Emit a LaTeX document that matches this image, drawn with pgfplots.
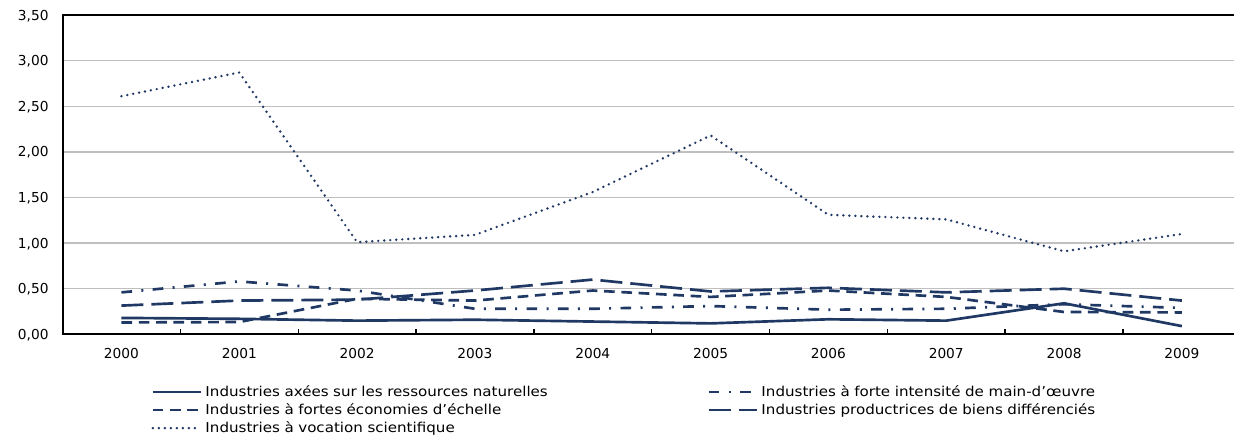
\documentclass[border=0pt]{standalone}
\usepackage{fontspec}
\setmainfont{DejaVu Sans}
\newfontfamily\legfont[FakeStretch=1.11]{DejaVu Sans}
\usepackage{pgfplots}
\pgfplotsset{compat=1.18}
\definecolor{navy}{HTML}{1F3864}
\begin{document}
\begin{tikzpicture}
\begin{axis}[
  at={(46.9pt,77pt)}, anchor=south west,
  scale only axis, width=883.7pt, height=239.5pt,
  xmin=-0.5, xmax=9.5, ymin=0, ymax=3.5,
  xtick={0,1,2,3,4,5,6,7,8,9},
  xticklabels={2000,2001,2002,2003,2004,2005,2006,2007,2008,2009},
  minor xtick={0.5,1.5,2.5,3.5,4.5,5.5,6.5,7.5,8.5},
  ytick={0,0.5,1,1.5,2,2.5,3,3.5},
  major tick length=0pt, minor tick length=3.75pt, tick align=inside,
  xtick pos=bottom, ytick pos=left,
  minor tick style={black, line width=1pt},
  ymajorgrids, grid style={color=gray!50, line width=1.1pt},
  axis line style={black, line width=1.5pt},
  yticklabel style={/pgf/number format/fixed, /pgf/number format/fixed zerofill,
    /pgf/number format/precision=2, /pgf/number format/use comma,
    /pgf/number format/assume math mode=true,
    inner sep=0pt, xshift=-10.3pt, text depth=0pt, font=\fontsize{10.3}{12}\selectfont},
  xticklabel style={inner sep=0pt, yshift=-10.5pt, font=\fontsize{10.3}{12}\selectfont},
  every axis plot/.append style={navy, line width=2pt},
  legend columns=2,
  legend cell align=left,
  legend style={at={(0.0755,-0.1527)}, anchor=north west, draw=none,
    inner sep=0pt, outer sep=0pt, column sep=0pt, row sep=0pt,
    nodes={inner xsep=2.5pt, inner ysep=1pt, text height=9pt, text depth=2.5pt,
      text width=374pt, align=left, font=\legfont\fontsize{10.2}{12}\selectfont}},
  legend image code/.code={\draw[#1] (0pt,0pt) -- (36pt,0pt);},
]
\addplot[solid] coordinates {(0,0.18)(1,0.17)(2,0.15)(3,0.16)(4,0.14)(5,0.12)(6,0.165)(7,0.15)(8,0.34)(9,0.09)};
\addlegendentry{Industries axées sur les ressources naturelles}
\addplot[dash pattern=on 8pt off 7pt on 1.5pt off 7pt] coordinates {(0,0.46)(1,0.58)(2,0.48)(3,0.28)(4,0.28)(5,0.31)(6,0.27)(7,0.28)(8,0.33)(9,0.29)};
\addlegendentry{Industries à forte intensité de main-d’œuvre}
\addplot[dash pattern=on 8pt off 5pt] coordinates {(0,0.13)(1,0.135)(2,0.39)(3,0.37)(4,0.48)(5,0.41)(6,0.48)(7,0.41)(8,0.245)(9,0.24)};
\addlegendentry{Industries à fortes économies d’échelle}
\addplot[dash pattern=on 16.5pt off 6pt] coordinates {(0,0.315)(1,0.37)(2,0.38)(3,0.48)(4,0.60)(5,0.47)(6,0.51)(7,0.46)(8,0.50)(9,0.37)};
\addlegendentry{Industries productrices de biens différenciés}
\addplot[line cap=round, dash pattern=on 0pt off 4.5pt] coordinates {(0,2.61)(1,2.87)(2,1.01)(3,1.09)(4,1.56)(5,2.18)(6,1.31)(7,1.26)(8,0.91)(9,1.10)};
\addlegendentry{Industries à vocation scientifique}
\end{axis}
\pgfresetboundingbox
\useasboundingbox (0,0) rectangle (925.5pt,327.75pt);
\end{tikzpicture}
\end{document}
